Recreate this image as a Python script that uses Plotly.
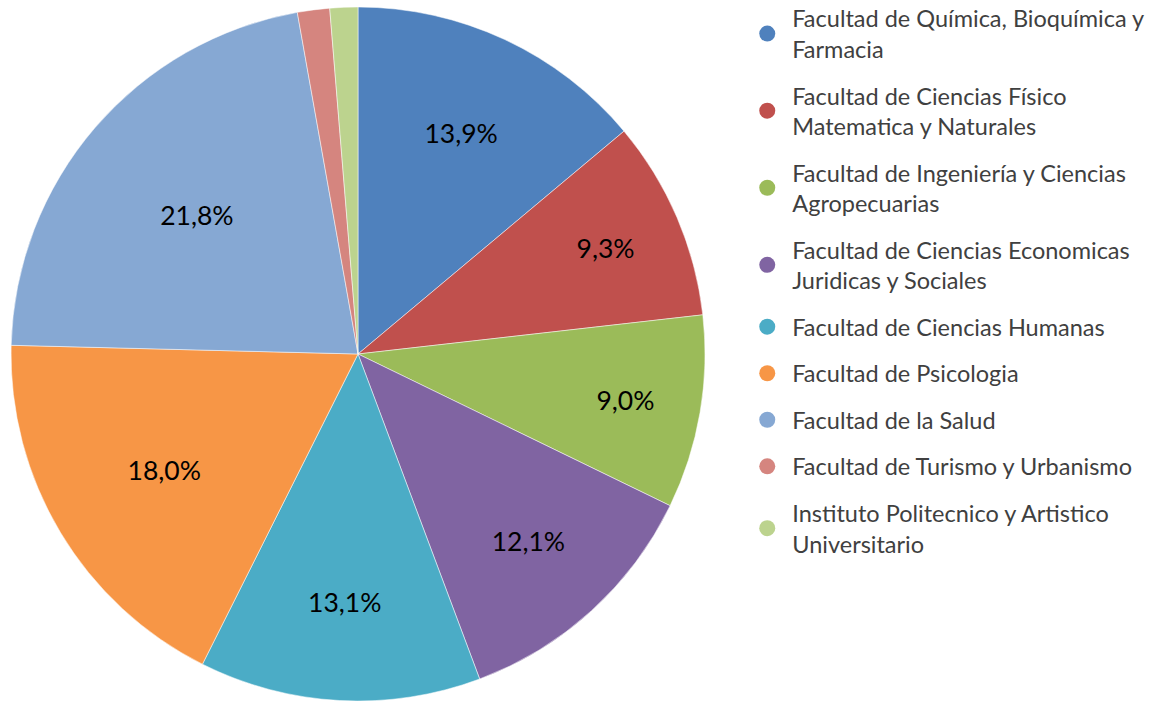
import plotly.graph_objects as go

# slice data (clockwise from 12 o'clock)
labels = [
    "Facultad de Química, Bioquímica y<br>Farmacia",
    "Facultad de Ciencias Físico<br>Matematica y Naturales",
    "Facultad de Ingeniería y Ciencias<br>Agropecuarias",
    "Facultad de Ciencias Economicas<br>Juridicas y Sociales",
    "Facultad de Ciencias Humanas",
    "Facultad de Psicologia",
    "Facultad de la Salud",
    "Facultad de Turismo y Urbanismo",
    "Instituto Politecnico y Artistico<br>Universitario",
]
values = [13.9, 9.3, 9.0, 12.1, 13.1, 18.0, 21.8, 1.5, 1.3]
slice_text = ["13,9%", "9,3%", "9,0%", "12,1%", "13,1%", "18,0%", "21,8%", "", ""]
colors = ["#4F81BD", "#C0504D", "#9BBB59", "#8064A2", "#4BACC6",
          "#F79646", "#86A8D3", "#D5857F", "#BCD38E"]

FONT = "Lato, 'Open Sans', sans-serif"

fig = go.Figure()

fig.add_trace(go.Pie(
    labels=labels,
    values=values,
    text=slice_text,
    textinfo="text",
    textposition="inside",
    insidetextorientation="horizontal",
    textfont=dict(family=FONT, size=26.5, color="#000000"),
    marker=dict(colors=colors, line=dict(color="#FFFFFF", width=0.5)),
    sort=False,
    direction="clockwise",
    rotation=0,
    showlegend=False,
    domain=dict(x=[0.0096, 0.6136], y=[0.0, 0.99]),
))

# circle legend entries, one group each so the gap can be widened
for i, (lab, col) in enumerate(zip(labels, colors)):
    fig.add_trace(go.Scatter(
        x=[None], y=[None], mode="markers", name=lab,
        legendgroup=f"g{i}",
        marker=dict(symbol="circle", size=22, color=col),
        showlegend=True,
    ))

fig.update_xaxes(visible=False)
fig.update_yaxes(visible=False)

fig.update_layout(
    width=1149, height=701,
    paper_bgcolor="#FFFFFF",
    plot_bgcolor="#FFFFFF",
    margin=dict(l=0, r=0, t=0, b=0, autoexpand=False),
    font=dict(family=FONT, color="#404040"),
    legend=dict(
        x=0.646, y=1.005, xanchor="left", yanchor="top",
        font=dict(size=23.5, color="#404040"),
        itemsizing="trace",
        itemwidth=40,
        tracegroupgap=13,
        maxheight=1,
        bgcolor="rgba(0,0,0,0)",
    ),
)

fig.write_html("out.html", config={"displayModeBar": False},
               post_script="document.body.style.margin='0';")
